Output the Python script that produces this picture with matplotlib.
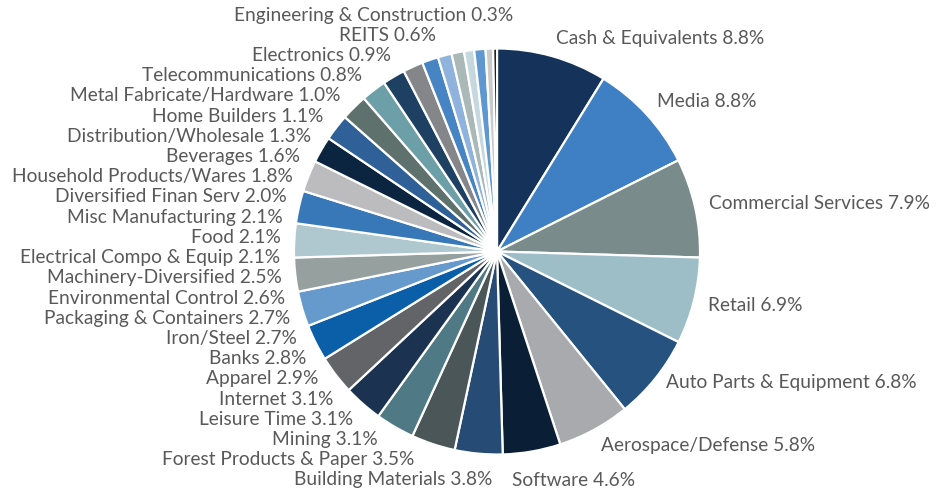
import numpy as np
import matplotlib
matplotlib.use("Agg")
import matplotlib.pyplot as plt

# sectors, clockwise from 12 o'clock
sectors = [
    "Cash & Equivalents", "Media", "Commercial Services", "Retail",
    "Auto Parts & Equipment", "Aerospace/Defense", "Software",
    "Building Materials", "Forest Products & Paper", "Mining", "Leisure Time",
    "Internet", "Apparel", "Banks", "Iron/Steel", "Packaging & Containers",
    "Environmental Control", "Machinery-Diversified", "Electrical Compo & Equip",
    "Food", "Misc Manufacturing", "Diversified Finan Serv",
    "Household Products/Wares", "Beverages", "Distribution/Wholesale",
    "Home Builders", "Metal Fabricate/Hardware", "Telecommunications",
    "Electronics", "REITS", "Engineering & Construction",
]
weights = [
    8.8, 8.8, 7.9, 6.9, 6.8, 5.8, 4.6,
    3.8, 3.5, 3.1, 3.1, 3.1, 2.9, 2.8, 2.7, 2.7,
    2.6, 2.5, 2.1, 2.1, 2.1, 2.0, 1.8, 1.6, 1.3,
    1.1, 1.0, 0.8, 0.9, 0.6, 0.3,
]
colors = [
    "#14325a", "#3f7fc4", "#7a8b8c", "#9dbdc7", "#25527f", "#a9aaad", "#0a1f35",
    "#264b75", "#4a5658", "#4f7a85", "#1b3350", "#636468", "#0b5ea8", "#6699cc",
    "#95a09f", "#afc7ce", "#3878b8", "#bcbcbe", "#0b243f", "#2f6097", "#5f716c",
    "#6d9fa8", "#1d4063", "#848689", "#4784c4", "#8fb3dc", "#aab8b8", "#c5d8df",
    "#5f98d0", "#cacaca", "#0a0a0a",
]
n_right = 7  # first seven labels sit on the right side

W, H = 947, 495
cx, cy, R = 497, 243.5, 203
txt_color = "#595959"
fs = 13.8
plt.rcParams["font.family"] = ["Lato", "DejaVu Sans"]

fig = plt.figure(figsize=(W / 100, H / 100), dpi=100)
ax = fig.add_axes([0, 0, 1, 1])
ax.pie(weights, colors=colors, startangle=90, counterclock=False,
       center=(cx, cy), radius=R, normalize=True,
       wedgeprops=dict(edgecolor="white", linewidth=1.6))
ax.set_xlim(0, W)
ax.set_ylim(0, H)
ax.set_aspect("equal")
ax.axis("off")

labels = [f"{s} {w:.1f}%" for s, w in zip(sectors, weights)]
frac = np.array(weights) / np.sum(weights)
mid = 90 - (np.cumsum(frac) - frac / 2) * 360
bottom_row, top_row = 15, H - 15

# right side: along the circle
for i in range(n_right):
    a = np.deg2rad(mid[i])
    x = cx + 1.07 * R * np.cos(a)
    y = cy + 1.09 * R * np.sin(a)
    if -60 < mid[i] < -30:
        y += 8
    if y < bottom_row + 20:
        # bottom label shares the row with the last left-hand label
        y = bottom_row
        x = cx + 15
    ax.text(x, y, labels[i], ha="left", va="center", fontsize=fs, color=txt_color)

# left side: stacked column hugging the circle
left = list(range(n_right, len(labels)))
ys = np.linspace(bottom_row, top_row, len(left))
for k, i in enumerate(left):
    y = ys[k]
    t = min(abs(y - cy) / 226, 1)
    x = cx + 3 - 220 * np.sqrt(1 - t ** 2)
    if k == len(left) - 1:
        x = cx + 16
    elif k == 0:
        x = cx - 5
    ax.text(x, y, labels[i], ha="right", va="center", fontsize=fs, color=txt_color)

fig.savefig("out.png", dpi=100, facecolor="white")
